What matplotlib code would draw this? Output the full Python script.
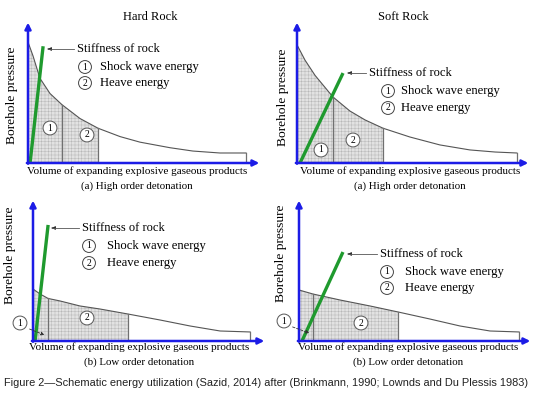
import numpy as np
import matplotlib
matplotlib.use('Agg')
import matplotlib.pyplot as plt

# curve data (volume 0-100 -> arrow tip, pressure 0-100 -> arrow tip)
hard_high_vol = [0, 2.2, 5.2, 9.6, 14.8, 22.7, 30.6, 40.2, 48.9, 62, 72, 83.8, 95.2]
hard_high_p = [87, 77, 61, 50, 42, 32, 25, 19, 15, 11, 8.6, 7.2, 7.2]
hard_high_edges = [14.8, 30.6]
hard_high_stiff_vol = [0.9, 6.6]
hard_high_stiff_p = [0, 84]

soft_high_vol = [0, 3.5, 7.9, 15.7, 23.1, 29.7, 37.6, 49.3, 62.4, 75.5, 86.5, 96]
soft_high_p = [85, 74, 63, 47.5, 37.4, 31, 25, 18.7, 13, 9.4, 7.9, 7.2]
soft_high_edges = [15.7, 37.6]
soft_high_stiff_vol = [1.3, 20.1]
soft_high_stiff_p = [0, 64.7]

hard_low_vol = [0, 3.1, 6.6, 11.8, 20.5, 29.3, 41.5, 55.5, 68.6, 81.7, 94.8]
hard_low_p = [37.4, 33.8, 30.6, 28.8, 25.2, 23, 19.4, 15.1, 10.8, 7.2, 6.5]
hard_low_edges = [6.6, 41.5]
hard_low_stiff_vol = [0.9, 6.6]
hard_low_stiff_p = [0, 83.5]

soft_low_vol = [0, 6.1, 17.9, 31, 43.2, 57.2, 70.3, 83.4, 96.1]
soft_low_p = [36.7, 33.8, 29.5, 25.2, 20.9, 15.8, 10.8, 7.2, 6.5]
soft_low_edges = [6.1, 43.2]
soft_low_stiff_vol = [1.3, 19.2]
soft_low_stiff_p = [0, 64]

W, H = 533, 396
BLUE = '#1c1ce6'
GREEN = '#1f9a2e'
SERIF = 'Liberation Serif'
plt.rcParams['hatch.linewidth'] = 0.35

fig = plt.figure(figsize=(W / 100, H / 100), dpi=100)
fig.patch.set_facecolor('white')


def fxy(x, y):
    return x / W, 1 - y / H


def panel(x0, y0, vol, p, edges, svol, sp):
    ax = fig.add_axes([x0 / W, 1 - y0 / H, 229 / W, 139 / H])
    ax.set_xlim(0, 100)
    ax.set_ylim(0, 100)
    ax.axis('off')
    vol = np.array(vol)
    p = np.array(p)
    i1 = list(vol).index(edges[0])
    i2 = list(vol).index(edges[1])
    for a, b in [(0, i1), (i1, i2)]:
        ax.fill_between(vol[a:b + 1], 0, p[a:b + 1], facecolor='#e2e2e2',
                        edgecolor='#b8b8b8', hatch='+++++', linewidth=0)
    ax.plot(vol, p, color='#555555', lw=0.8)
    for e in [vol[i1], vol[i2], vol[-1]]:
        ax.plot([e, e], [0, p[list(vol).index(e)]], color='#707070', lw=0.9)
    ax.plot(svol, sp, color=GREEN, lw=2.4, solid_capstyle='butt')
    arr = dict(arrowstyle='-|>', color=BLUE, lw=1.8, mutation_scale=9,
               shrinkA=0, shrinkB=0)
    ax.annotate('', xy=(101, 0), xytext=(-0.5, 0), arrowprops=arr,
                annotation_clip=False)
    ax.annotate('', xy=(0, 101), xytext=(0, -0.5), arrowprops=arr,
                annotation_clip=False)
    return ax


def label_block(sx, sy, tip, cx, c1y, c2y, tx):
    fig.text(*fxy(sx, sy), 'Stiffness of rock', family=SERIF, fontsize=9,
             va='center', ha='left')
    fig.add_artist(plt.Line2D([(tip + 3) / W, (sx - 3) / W], [1 - sy / H] * 2,
                              transform=fig.transFigure, color='#555', lw=0.6))
    fig.patches.append(matplotlib.patches.FancyArrowPatch(
        (tip + 6, H - sy), (tip, H - sy), transform=None,
        arrowstyle='-|>', mutation_scale=5, color='#222', lw=0.6))
    for y, num, txt in [(c1y, '1', 'Shock wave energy'), (c2y, '2', 'Heave energy')]:
        fig.text(*fxy(cx, y), num, family=SERIF, fontsize=7, ha='center',
                 va='center', bbox=dict(boxstyle='circle,pad=0.2', fc='white',
                                        ec='#444', lw=0.7))
        fig.text(*fxy(tx, y), txt, family=SERIF, fontsize=9.1, ha='left',
                 va='center')


def region_label(x, y, num):
    fig.text(*fxy(x, y), num, family=SERIF, fontsize=7, ha='center',
             va='center', bbox=dict(boxstyle='circle,pad=0.25', fc='white',
                                    ec='#555', lw=0.7))


panel(28, 163, hard_high_vol, hard_high_p, hard_high_edges,
      hard_high_stiff_vol, hard_high_stiff_p)
panel(297, 163, soft_high_vol, soft_high_p, soft_high_edges,
      soft_high_stiff_vol, soft_high_stiff_p)
panel(33, 341, hard_low_vol, hard_low_p, hard_low_edges,
      hard_low_stiff_vol, hard_low_stiff_p)
panel(299, 341, soft_low_vol, soft_low_p, soft_low_edges,
      soft_low_stiff_vol, soft_low_stiff_p)

# titles and axis texts
for x, t in [(150, 'Hard Rock'), (403, 'Soft Rock')]:
    fig.text(*fxy(x, 17), t, family=SERIF, fontsize=9, ha='center', va='center')
for x, y in [(12, 95), (283, 97), (10, 255), (281, 253)]:
    fig.text(*fxy(x, y), 'Borehole pressure', family=SERIF, fontsize=9.7,
             rotation=90, ha='center', va='center')
for x, y, sub in [(137, 186, '(a) High order detonation'),
                  (410, 186, '(a) High order detonation'),
                  (139, 362, '(b) Low order detonation'),
                  (408, 362, '(b) Low order detonation')]:
    fig.text(*fxy(x, y - 15), 'Volume of expanding explosive gaseous products',
             family=SERIF, fontsize=8, ha='center', va='center')
    fig.text(*fxy(x, y), sub, family=SERIF, fontsize=7.8, ha='center', va='center')

label_block(77, 49, 45, 85, 67, 83, 100)
label_block(369, 73, 345, 388, 91, 108, 401)
label_block(82, 228, 49, 89, 246, 263, 107)
label_block(380, 254, 345, 387, 272, 288, 405)

region_label(50, 128, '1')
region_label(87, 135, '2')
region_label(321, 150, '1')
region_label(353, 140, '2')
region_label(20, 323, '1')
region_label(87, 318, '2')
region_label(284, 321, '1')
region_label(361, 323, '2')

# dashed pointers from the small shock-wave zones
for (x0, y0), (x1, y1) in [((27, 328), (47, 336)), ((290, 326), (312, 334))]:
    fig.patches.append(matplotlib.patches.FancyArrowPatch(
        (x0, H - y0), (x1, H - y1), transform=None, arrowstyle='-|>',
        mutation_scale=5, color='#333', lw=0.6, linestyle=(0, (3, 2))))

fig.text(*fxy(4, 383), 'Figure 2\u2014Schematic energy utilization (Sazid, 2014) after '
         '(Brinkmann, 1990; Lownds and Du Plessis 1983)',
         family='Liberation Sans', fontsize=7.9, color='#222', ha='left', va='center')

plt.savefig('out.png', dpi=100)
